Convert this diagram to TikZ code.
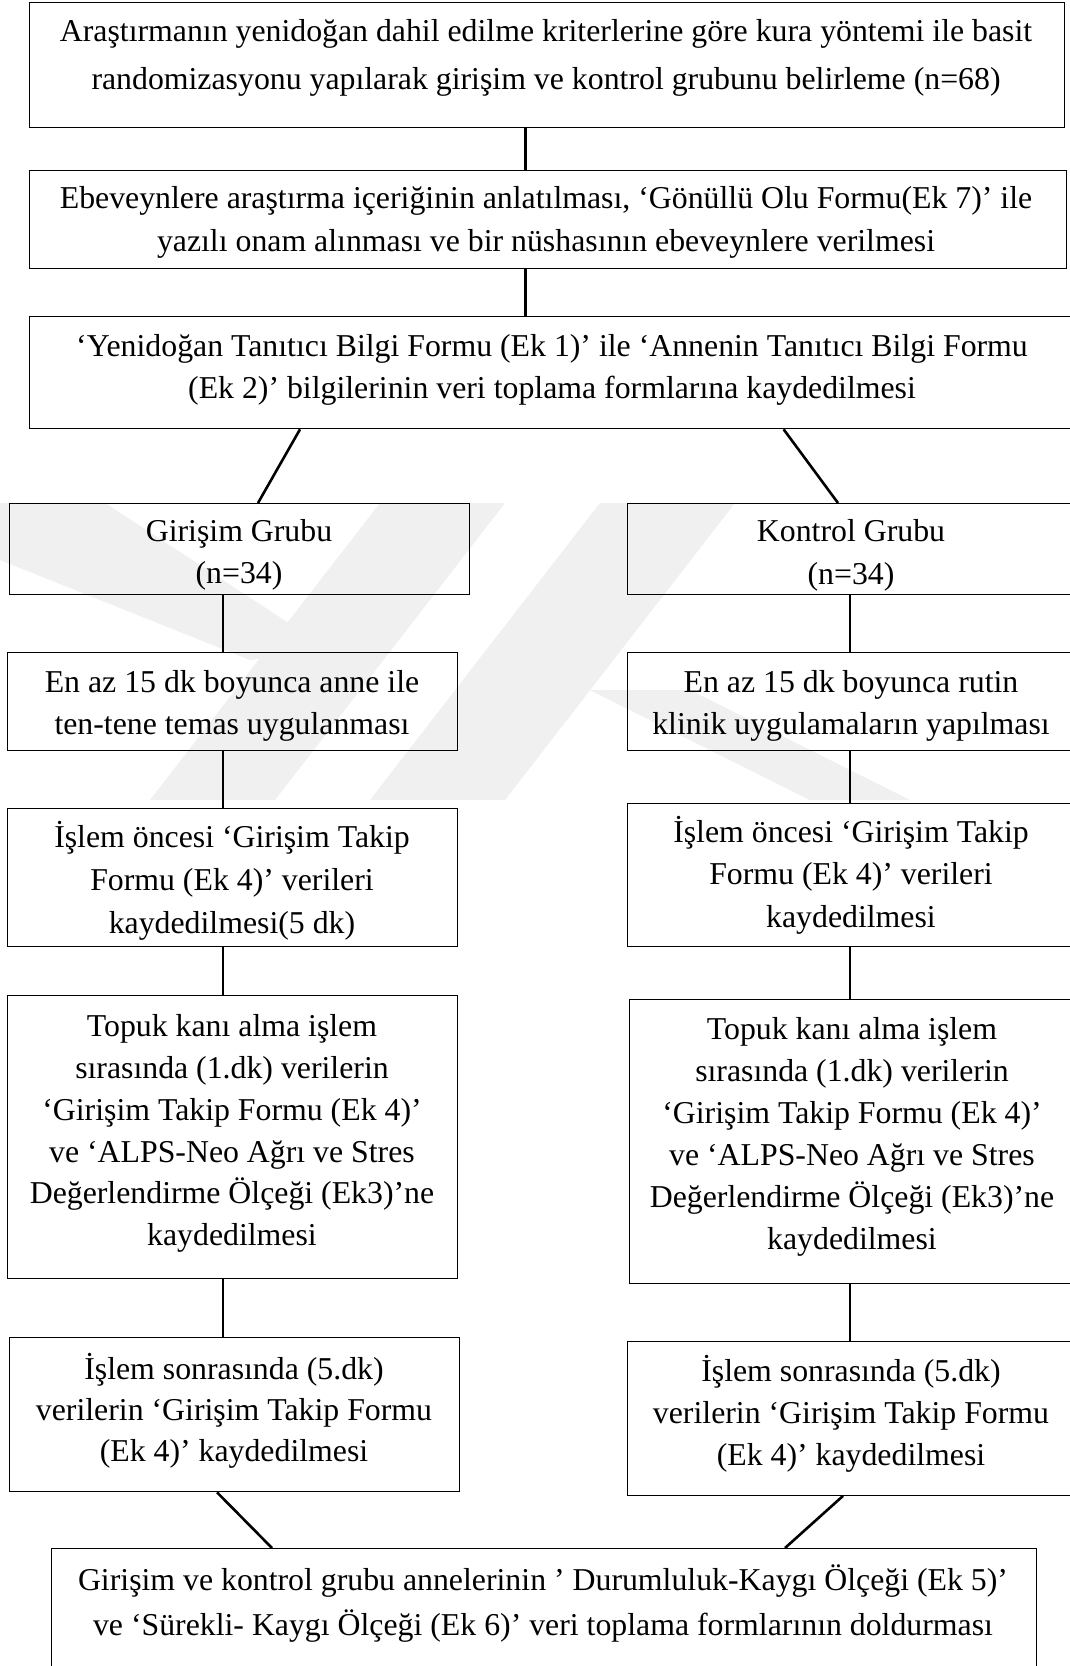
\documentclass[tikz,border=0pt]{standalone}
\usepackage{fontspec}
\setmainfont{Liberation Serif}
\newcommand{\bt}[3]{\parbox[t]{#1}{\centering\fontsize{31.8}{#2}\selectfont #3\par}}
\begin{document}
\begin{tikzpicture}[x=1pt,y=-1pt,
  box/.style={draw, line width=1.3pt, inner sep=0pt, anchor=north west},
  txt/.style={anchor=base, inner sep=0pt},
  conn/.style={line width=2.6pt},
  wm/.style={fill=black!6, draw=none}]
\clip (0,0) rectangle (1070,1666);
\fill[white] (0,0) rectangle (1070,1666);
% watermark
\fill[wm] (380,503) -- (505,503) -- (275,800) -- (150,800) -- cycle;
\fill[wm] (600,503) -- (735,503) -- (505,800) -- (370,800) -- cycle;
\fill[wm] (0,503) -- (105,503) -- (330,650) -- (250,660) -- (0,560) -- cycle;
\fill[wm] (590,690) -- (690,690) -- (910,800) -- (810,800) -- cycle;
% boxes
\node[box, minimum width=1034.8pt, minimum height=124.5pt] (b1) at (28.7,2) {};
\node[box, minimum width=1037.3pt, minimum height=98pt] (b2) at (28.7,170) {};
\node[box, minimum width=1047.3pt, minimum height=112pt] (b3) at (28.7,316) {};
\node[box, minimum width=460.1pt, minimum height=91pt] (gL) at (8.9,503) {};
\node[box, minimum width=449.4pt, minimum height=91pt] (gR) at (626.6,503) {};
\node[box, minimum width=450.2pt, minimum height=97.5pt] (eL) at (6.8,652) {};
\node[box, minimum width=449.4pt, minimum height=97.5pt] (eR) at (626.6,652) {};
\node[box, minimum width=450.2pt, minimum height=138pt] (iL) at (6.8,808) {};
\node[box, minimum width=449.4pt, minimum height=143pt] (iR) at (626.6,803) {};
\node[box, minimum width=450.2pt, minimum height=283pt] (tL) at (6.8,995) {};
\node[box, minimum width=447pt, minimum height=283.6pt] (tR) at (629,999) {};
\node[box, minimum width=450.1pt, minimum height=154pt] (sL) at (8.9,1337) {};
\node[box, minimum width=449.4pt, minimum height=154.1pt] (sR) at (626.6,1340.5) {};
\node[box, minimum width=984.5pt, minimum height=160pt] (bB) at (51,1548) {};
% texts
\node[txt] (t1) at (546,41.7) {\bt{1060pt}{47.8pt}{Araştırmanın yenidoğan dahil edilme kriterlerine göre kura yöntemi ile basit\\randomizasyonu yapılarak girişim ve kontrol grubunu belirleme (n=68)}};
\node[txt] (t2) at (546,208.5) {\bt{1060pt}{42.5pt}{Ebeveynlere araştırma içeriğinin anlatılması, ‘Gönüllü Olu Formu(Ek 7)’ ile\\yazılı onam alınması ve bir nüshasının ebeveynlere verilmesi}};
\node[txt] (t3) at (552,356) {\bt{1060pt}{42.5pt}{‘Yenidoğan Tanıtıcı Bilgi Formu (Ek 1)’ ile ‘Annenin Tanıtıcı Bilgi Formu\\(Ek 2)’ bilgilerinin veri toplama formlarına kaydedilmesi}};
\node[txt] (tgL) at (239,541) {\bt{460pt}{42.5pt}{Girişim Grubu\\(n=34)}};
\node[txt] (tgR) at (851,541) {\bt{460pt}{43.7pt}{Kontrol Grubu\\(n=34)}};
\node[txt] (teL) at (232,692) {\bt{460pt}{42.5pt}{En az 15 dk boyunca anne ile\\ten-tene temas uygulanması}};
\node[txt] (teR) at (851,692) {\bt{460pt}{42.5pt}{En az 15 dk boyunca rutin\\klinik uygulamaların yapılması}};
\node[txt] (tiL) at (232,847) {\bt{460pt}{43pt}{İşlem öncesi ‘Girişim Takip\\Formu (Ek 4)’ verileri\\kaydedilmesi(5 dk)}};
\node[txt] (tiR) at (851,842) {\bt{460pt}{42.5pt}{İşlem öncesi ‘Girişim Takip\\Formu (Ek 4)’ verileri\\kaydedilmesi}};
\node[txt] (ttL) at (232,1036.3) {\bt{460pt}{41.9pt}{Topuk kanı alma işlem\\sırasında (1.dk) verilerin\\‘Girişim Takip Formu (Ek 4)’\\ve ‘ALPS-Neo Ağrı ve Stres\\Değerlendirme Ölçeği (Ek3)’ne\\kaydedilmesi}};
\node[txt] (ttR) at (852,1039.5) {\bt{460pt}{41.9pt}{Topuk kanı alma işlem\\sırasında (1.dk) verilerin\\‘Girişim Takip Formu (Ek 4)’\\ve ‘ALPS-Neo Ağrı ve Stres\\Değerlendirme Ölçeği (Ek3)’ne\\kaydedilmesi}};
\node[txt] (tsL) at (234,1379.6) {\bt{460pt}{40.9pt}{İşlem sonrasında (5.dk)\\verilerin ‘Girişim Takip Formu\\(Ek 4)’ kaydedilmesi}};
\node[txt] (tsR) at (851,1381.7) {\bt{460pt}{42pt}{İşlem sonrasında (5.dk)\\verilerin ‘Girişim Takip Formu\\(Ek 4)’ kaydedilmesi}};
\node[txt] (tB) at (543,1590) {\bt{1000pt}{45.7pt}{Girişim ve kontrol grubu annelerinin ’ Durumluluk-Kaygı Ölçeği (Ek 5)’\\ve ‘Sürekli- Kaygı Ölçeği (Ek 6)’ veri toplama formlarının doldurması}};
% connector x positions
\coordinate (cm) at (525.5,0);
\coordinate (dl1) at (300,0);
\coordinate (dl2) at (258,0);
\coordinate (dr1) at (783.6,0);
\coordinate (dr2) at (838,0);
\coordinate (cl) at (223,0);
\coordinate (cr) at (850,0);
\coordinate (el1) at (217,0);
\coordinate (el2) at (272,0);
\coordinate (er1) at (843,0);
\coordinate (er2) at (785,0);
% connectors
\draw[conn] (b1.south -| cm) -- (b2.north -| cm);
\draw[conn] (b2.south -| cm) -- (b3.north -| cm);
\draw[conn] (b3.south -| dl1) -- (gL.north -| dl2);
\draw[conn] (b3.south -| dr1) -- (gR.north -| dr2);
\draw[conn] (gL.south -| cl) -- (eL.north -| cl);
\draw[conn] (eL.south -| cl) -- (iL.north -| cl);
\draw[conn] (iL.south -| cl) -- (tL.north -| cl);
\draw[conn] (tL.south -| cl) -- (sL.north -| cl);
\draw[conn] (gR.south -| cr) -- (eR.north -| cr);
\draw[conn] (eR.south -| cr) -- (iR.north -| cr);
\draw[conn] (iR.south -| cr) -- (tR.north -| cr);
\draw[conn] (tR.south -| cr) -- (sR.north -| cr);
\draw[conn] (sL.south -| el1) -- (bB.north -| el2);
\draw[conn] (sR.south -| er1) -- (bB.north -| er2);
\end{tikzpicture}
\end{document}
